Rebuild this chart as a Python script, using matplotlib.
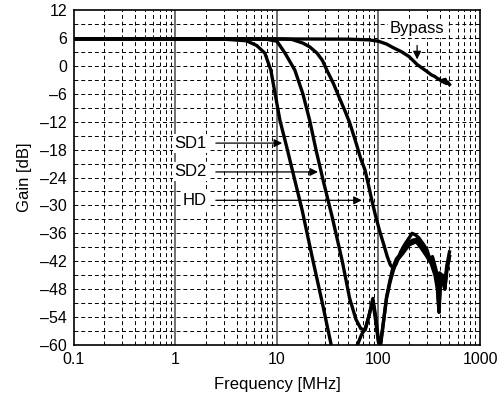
import numpy as np
import matplotlib
matplotlib.use("Agg")
import matplotlib.pyplot as plt
from matplotlib.ticker import FixedLocator, NullFormatter

plt.rcParams['font.family'] = ['Liberation Sans', 'DejaVu Sans']

# Bypass
f_byp = [0.1, 1, 10, 50, 80, 100, 120, 140, 170, 200, 240, 270, 300, 330, 360,
         380, 400, 420, 435, 445, 455, 465, 480, 500]
g_byp = [5.8, 5.8, 5.8, 5.75, 5.6, 5.3, 4.7, 3.9, 3.0, 2.0, 0.3, -0.5, -1.2, -1.9,
         -2.3, -2.7, -2.9, -3.4, -3.0, -3.6, -2.9, -3.8, -3.5, -4.0]

# SD1
f_sd1 = [0.1, 1, 3, 5, 6.3, 7.6, 8.7, 10.7, 12.5, 15, 17.7, 22.6, 28, 35, 40,
         55, 62, 68, 74, 80, 88, 94, 100, 105, 112, 120, 130, 140, 150, 171,
         200, 235, 260, 300, 330, 360, 380, 392, 410, 430, 450, 470, 500]
g_sd1 = [5.8, 5.8, 5.75, 5.4, 4.4, 2.75, -0.9, -11.7, -17.5, -24.6, -31, -41.8,
         -51, -61, -66, -64, -60, -57.8, -56.5, -54, -50.5, -55, -59.5, -60,
         -55, -50, -46.5, -44, -42, -40.5, -38.5, -37.8, -39, -41, -42.5, -45,
         -48, -52, -46, -46.5, -48, -44, -41]

# SD2
f_sd2 = [0.1, 1, 5, 8, 10, 12, 15, 18, 21, 24.5, 28.5, 35, 44, 52, 60, 67, 74,
         80, 88, 94, 100, 105, 112, 120, 130, 138, 150, 171, 190, 214, 235, 260,
         290, 320, 340, 360, 380, 395, 410, 430, 450, 470, 500]
g_sd2 = [5.8, 5.8, 5.8, 5.7, 5.3, 2.75, -0.9, -6, -11.7, -18.5, -24.6, -32.5,
         -42, -50, -54.5, -56.5, -56.8, -54, -50, -54, -59, -59.5, -55, -49.7,
         -46, -43.5, -41.5, -40, -38.5, -37.5, -37.3, -38.5, -40, -42, -41.5,
         -44, -47, -53, -46, -45, -48, -44, -41]

# HD
f_hd = [0.1, 1, 10, 14, 18, 21, 24.8, 28, 31, 36, 42, 47, 52, 60, 67, 73.7, 80,
        86, 93, 102, 113, 122, 131, 140, 150, 165, 180, 200, 214, 230, 250, 270,
        300, 320, 340, 360, 380, 390, 400, 420, 450, 470, 500]
g_hd = [5.8, 5.8, 5.8, 5.7, 4.9, 4.1, 2.75, 1.2, -0.9, -3.8, -7.3, -9.8, -12.2,
        -16.5, -20, -22.4, -25.8, -28.9, -32, -35.3, -38.5, -41, -42.8, -43.5,
        -42.5, -40, -38.5, -37, -36, -36.3, -37, -38, -39.5, -41.5, -41, -43,
        -45, -50, -44.5, -45, -47, -43, -40]

yticks = list(range(-60, 13, 6))
xticks = [0.1, 1, 10, 100, 1000]
xlabels = ['0.1', '1', '10', '100', '1000']

fig = plt.figure(figsize=(4.99, 4.03), dpi=100)
ax = fig.add_axes([0.148, 0.144, 0.814, 0.831])
ax.set_xscale('log')
ax.set_xlim(0.1, 1000)
ax.set_ylim(-60, 12)

# grid
minors = [m * 10.0 ** d for d in range(-1, 3) for m in range(2, 10)]
for x in minors:
    ax.axvline(x, color='black', lw=0.7, ls=(0, (4, 3)), zorder=1)
for x in [1, 10, 100]:
    ax.axvline(x, color='#666666', lw=1.3, zorder=1)
for y in range(-57, 12, 3):
    ax.axhline(y, color='black', lw=0.7, ls=(0, (4, 3)), zorder=1)

for f, g in [(f_byp, g_byp), (f_sd1, g_sd1), (f_sd2, g_sd2), (f_hd, g_hd)]:
    ax.plot(f, g, color='black', lw=2.4, solid_joinstyle='round', zorder=3)

ax.xaxis.set_major_locator(FixedLocator(xticks))
ax.set_xticklabels(xlabels)
ax.xaxis.set_minor_formatter(NullFormatter())
ax.set_yticks(yticks)
ax.set_yticklabels([str(t).replace('-', '\u2013') for t in yticks])
ax.tick_params(which='both', length=0, labelsize=11.5, pad=5)
for s in ax.spines.values():
    s.set_linewidth(1.2)
ax.set_xlabel('Frequency [MHz]', fontsize=12, labelpad=7)
ax.set_ylabel('Gain [dB]', fontsize=12, labelpad=6)

box = dict(facecolor='white', edgecolor='none', pad=1.5)
arrow = dict(arrowstyle='-|>', color='black', lw=0.9, mutation_scale=12)
ax.annotate('', xy=(12.0, -16.6), xytext=(2.35, -16.6), arrowprops=arrow, zorder=4)
ax.annotate('', xy=(27.0, -22.8), xytext=(2.35, -22.8), arrowprops=arrow, zorder=4)
ax.annotate('', xy=(73.0, -28.9), xytext=(2.35, -28.9), arrowprops=arrow, zorder=4)
ax.text(1.42, -16.6, 'SD1', ha='center', va='center', fontsize=12, bbox=box, zorder=5)
ax.text(1.42, -22.8, 'SD2', ha='center', va='center', fontsize=12, bbox=box, zorder=5)
ax.text(1.55, -28.9, 'HD', ha='center', va='center', fontsize=12, bbox=box, zorder=5)
ax.text(240, 8.0, 'Bypass', ha='center', va='center', fontsize=12, bbox=box, zorder=5)
ax.annotate('', xy=(240, 0.8), xytext=(240, 5.0), arrowprops=arrow, zorder=4)

fig.savefig('out.png', dpi=100)
